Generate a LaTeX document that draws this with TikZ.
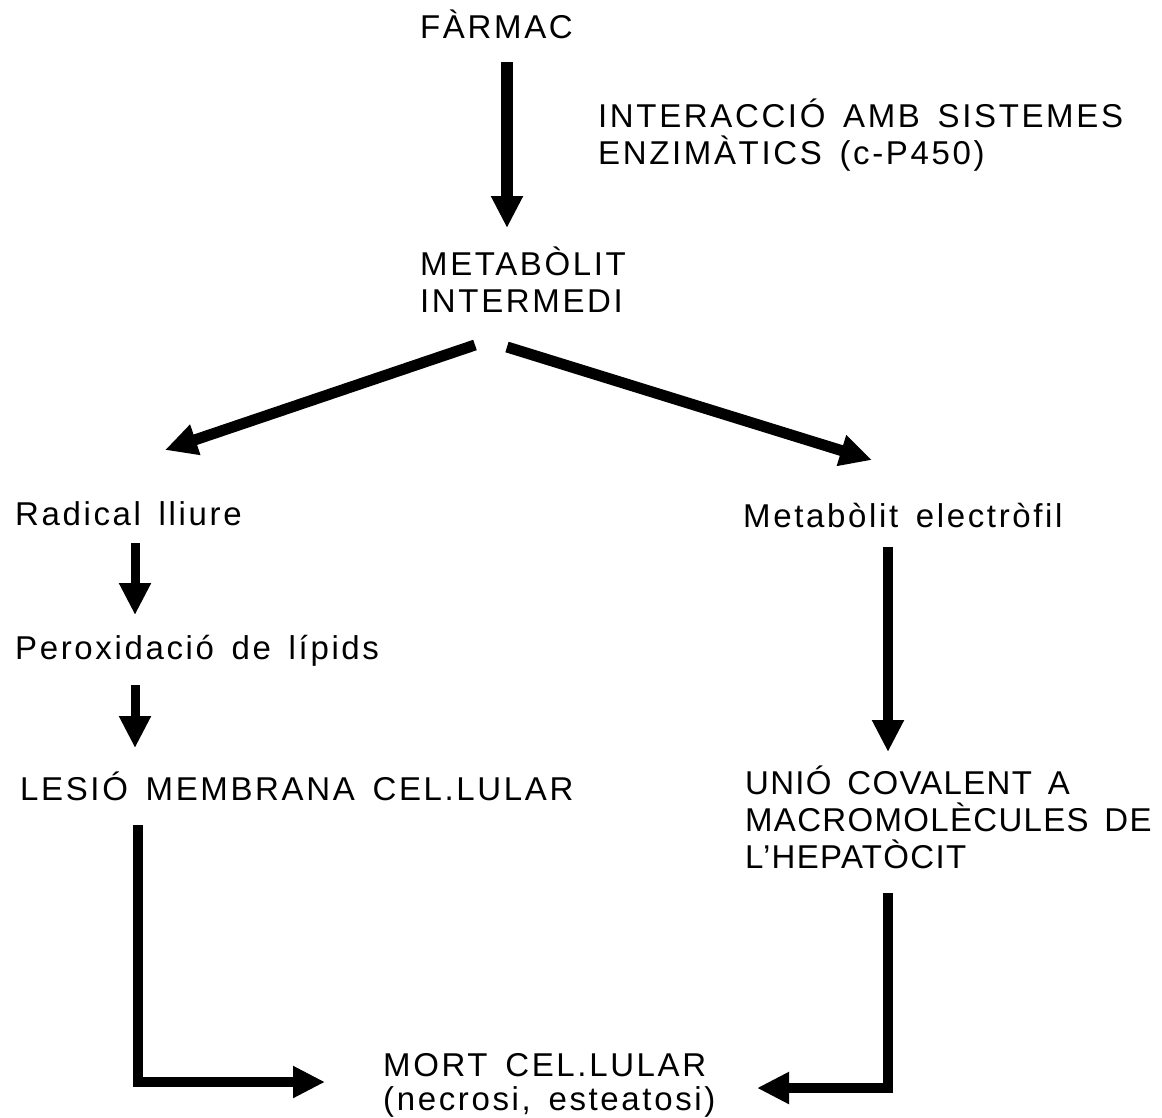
\documentclass[tikz,border=0pt]{standalone}
\usepackage{fontspec}
\setmainfont{Liberation Sans}[LetterSpace=8,WordSpace=1.5]
\usetikzlibrary{arrows.meta}

\begin{document}
\begin{tikzpicture}[x=1pt,y=-1pt,
    txt/.style={anchor=base west,inner sep=0pt,align=left,font=\fontsize{33}{37}\selectfont},
    fat/.style={line width=#1,-{Triangle[length=32pt,width=30pt]}},
    fat/.default=10pt]
  \useasboundingbox (0,0) rectangle (1162,1117);
  % texts (base west = baseline of the last line)
  \node[txt] (farmac) at (420,38) {FÀRMAC};
  \node[txt] (interac) at (598,164) {INTERACCIÓ AMB SISTEMES\\ENZIMÀTICS (c-P450)};
  \node[txt] (metab) at (420,312) {METABÒLIT\\INTERMEDI};
  \node[txt] (radical) at (15,525) {Radical lliure};
  \node[txt] (electro) at (743,527) {Metabòlit electròfil};
  \node[txt] (perox) at (15,659) {Peroxidació de lípids};
  \node[txt] (lesio) at (20,800) {LESIÓ MEMBRANA CEL.LULAR};
  \node[txt,font=\fontsize{33}{37}\selectfont\addfontfeature{LetterSpace=4}] (unio) at (745,868)
    {UNIÓ COVALENT A\\MACROMOLÈCULES DE\\L'HEPATÒCIT};
  \node[txt,font=\fontsize{33}{34}\selectfont] (mort) at (383,1110) {MORT CEL.LULAR\\(necrosi, esteatosi)};
  % arrows
  \draw[fat=12pt] ([shift={(87,24)}]farmac.base west) -- ([shift={(87,-84)}]metab.base west);
  \draw[fat=11pt] ([shift={(55,33)}]metab.base west) -- ([shift={(150,-75)}]radical.base west);
  \draw[fat=11pt] ([shift={(87,35)}]metab.base west) -- ([shift={(129,-67)}]electro.base west);
  \draw[fat=9pt] ([shift={(120,18)}]radical.base west) -- ([shift={(120,-44)}]perox.base west);
  \draw[fat=9pt] ([shift={(120,26)}]perox.base west) -- ([shift={(115,-52)}]lesio.base west);
  \draw[fat] ([shift={(145,20)}]electro.base west) -- ([shift={(143,-116)}]unio.base west);
  \draw[fat] ([shift={(118,25)}]lesio.base west) |- ([shift={(-58,-28)}]mort.base west);
  \draw[fat] ([shift={(143,25)}]unio.base west) |- ([shift={(374,-22)}]mort.base west);
\end{tikzpicture}
\end{document}
